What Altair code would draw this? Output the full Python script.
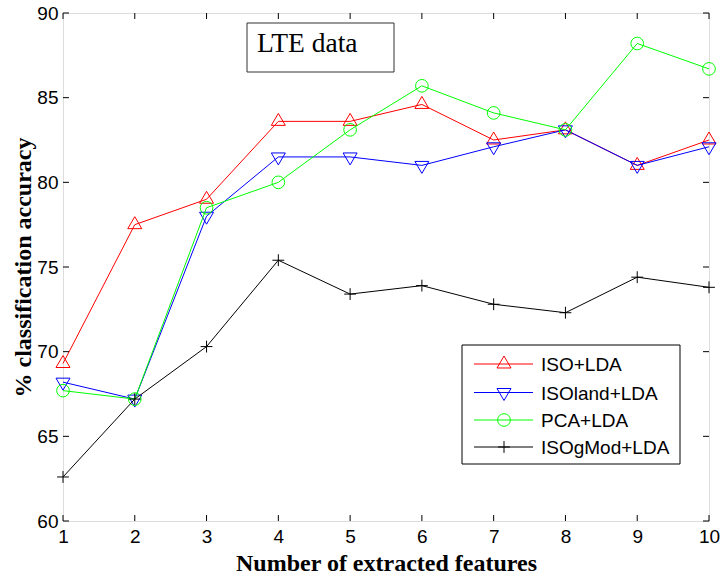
import altair as alt
import pandas as pd

# ---- data ----
features = [1, 2, 3, 4, 5, 6, 7, 8, 9, 10]
iso_lda = [69.3, 77.5, 79.0, 83.6, 83.6, 84.6, 82.5, 83.1, 81.0, 82.5]
isoland_lda = [68.2, 67.2, 78.0, 81.5, 81.5, 81.0, 82.1, 83.1, 81.0, 82.1]
pca_lda = [67.7, 67.2, 78.5, 80.0, 83.1, 85.7, 84.1, 83.1, 88.2, 86.7]
isogmod_lda = [62.6, 67.2, 70.3, 75.4, 73.4, 73.9, 72.8, 72.3, 74.4, 73.8]
series_names = ["ISO+LDA", "ISOland+LDA", "PCA+LDA", "ISOgMod+LDA"]
x_ticks = [1, 2, 3, 4, 5, 6, 7, 8, 9, 10]
y_ticks = [60, 65, 70, 75, 80, 85, 90]
annotation = "LTE data"

# ---- styling ----
W, H = 646, 508
colors = ["#ff0000", "#0000ff", "#00ff00", "#000000"]
shapes = [
    "M0,-1.14L1,0.57L-1,0.57Z",
    "M0,1.14L1,-0.57L-1,-0.57Z",
    "circle",
    "M-1,0H1M0,-1V1",
]
sizes = [196, 196, 160, 140]

xscale = alt.Scale(domain=[1, 10], nice=False, zero=False)
yscale = alt.Scale(domain=[60, 90], nice=False, zero=False)
xaxis = alt.Axis(
    values=x_ticks, title="Number of extracted features", grid=False,
    ticks=False, domain=False, labelPadding=6, labelFontSize=19,
    labelFont="Liberation Sans", labelColor="black", labelFlush=False,
    titleFont="Liberation Serif", titleFontSize=24, titleFontWeight="bold",
    titleColor="black", titleBaseline="alphabetic", titleX=W / 2, titleY=49,
)
yaxis = alt.Axis(
    values=y_ticks, title="% classification accuracy", grid=False,
    ticks=False, domain=False, labelPadding=5, labelFontSize=19,
    labelFont="Liberation Sans", labelColor="black", labelFlush=False,
    titleFont="Liberation Serif", titleFontSize=24, titleFontWeight="bold",
    titleColor="black", titleBaseline="alphabetic", titleAngle=270,
    titleX=-33, titleY=H / 2,
)

layers = []
all_vals = [iso_lda, isoland_lda, pca_lda, isogmod_lda]
for name, vals, col, shp, sz in zip(series_names, all_vals, colors, shapes, sizes):
    df = pd.DataFrame({"f": features, "acc": vals, "series": name})
    base = alt.Chart(df).encode(
        x=alt.X("f:Q", scale=xscale, axis=xaxis),
        y=alt.Y("acc:Q", scale=yscale, axis=yaxis),
    )
    layers.append(base.mark_line(color=col, strokeWidth=1))
    layers.append(base.mark_point(shape=shp, color=col, filled=False,
                                  size=sz, strokeWidth=1, opacity=1))

# inward ticks on all four sides
xt = pd.DataFrame({"t": x_ticks})
yt = pd.DataFrame({"t": y_ticks})
tl = 6
layers.append(alt.Chart(xt).mark_rule(color="black", strokeWidth=1).encode(
    x=alt.X("t:Q", scale=xscale, axis=xaxis), y=alt.value(H), y2=alt.value(H - tl)))
layers.append(alt.Chart(xt).mark_rule(color="black", strokeWidth=1).encode(
    x=alt.X("t:Q", scale=xscale, axis=xaxis), y=alt.value(0), y2=alt.value(tl)))
layers.append(alt.Chart(yt).mark_rule(color="black", strokeWidth=1).encode(
    y=alt.Y("t:Q", scale=yscale, axis=yaxis), x=alt.value(0), x2=alt.value(tl)))
layers.append(alt.Chart(yt).mark_rule(color="black", strokeWidth=1).encode(
    y=alt.Y("t:Q", scale=yscale, axis=yaxis), x=alt.value(W - tl), x2=alt.value(W)))

# "LTE data" annotation box
one = pd.DataFrame({"label": [annotation]})
layers.append(alt.Chart(one).mark_rect(fill="white", stroke="#333333", strokeWidth=1).encode(
    x=alt.value(184), x2=alt.value(331), y=alt.value(10), y2=alt.value(59)))
layers.append(alt.Chart(one).mark_text(
    align="left", baseline="alphabetic", font="Liberation Serif", fontSize=27.5,
    color="black").encode(x=alt.value(194), y=alt.value(39), text="label:N"))

# legend
layers.append(alt.Chart(one).mark_rect(fill="white", stroke="black", strokeWidth=1).encode(
    x=alt.value(399), x2=alt.value(617), y=alt.value(332), y2=alt.value(451)))
row_y = [351, 379.5, 407, 434]
for name, col, shp, sz, ry in zip(series_names, colors, shapes, sizes, row_y):
    ldf = pd.DataFrame({"label": [name]})
    lc = alt.Chart(ldf)
    layers.append(lc.mark_rule(color=col, strokeWidth=1).encode(
        x=alt.value(411), x2=alt.value(470), y=alt.value(ry)))
    layers.append(lc.mark_point(shape=shp, color=col, filled=False, size=sz,
                                strokeWidth=1, opacity=1).encode(
        x=alt.value(441), y=alt.value(ry)))
    layers.append(lc.mark_text(align="left", baseline="middle", font="Liberation Sans",
                               fontSize=19, color="black").encode(
        x=alt.value(478), y=alt.value(ry + 1), text="label:N"))

chart = alt.layer(*layers).properties(
    width=W, height=H,
    autosize=alt.AutoSizeParams(type="none"),
    padding={"left": 63, "top": 13, "right": 11, "bottom": 56},
).configure_view(stroke="black", strokeWidth=1.2).configure(background="white")

chart.save("out.html", embed_options={"renderer": "svg", "actions": False})
